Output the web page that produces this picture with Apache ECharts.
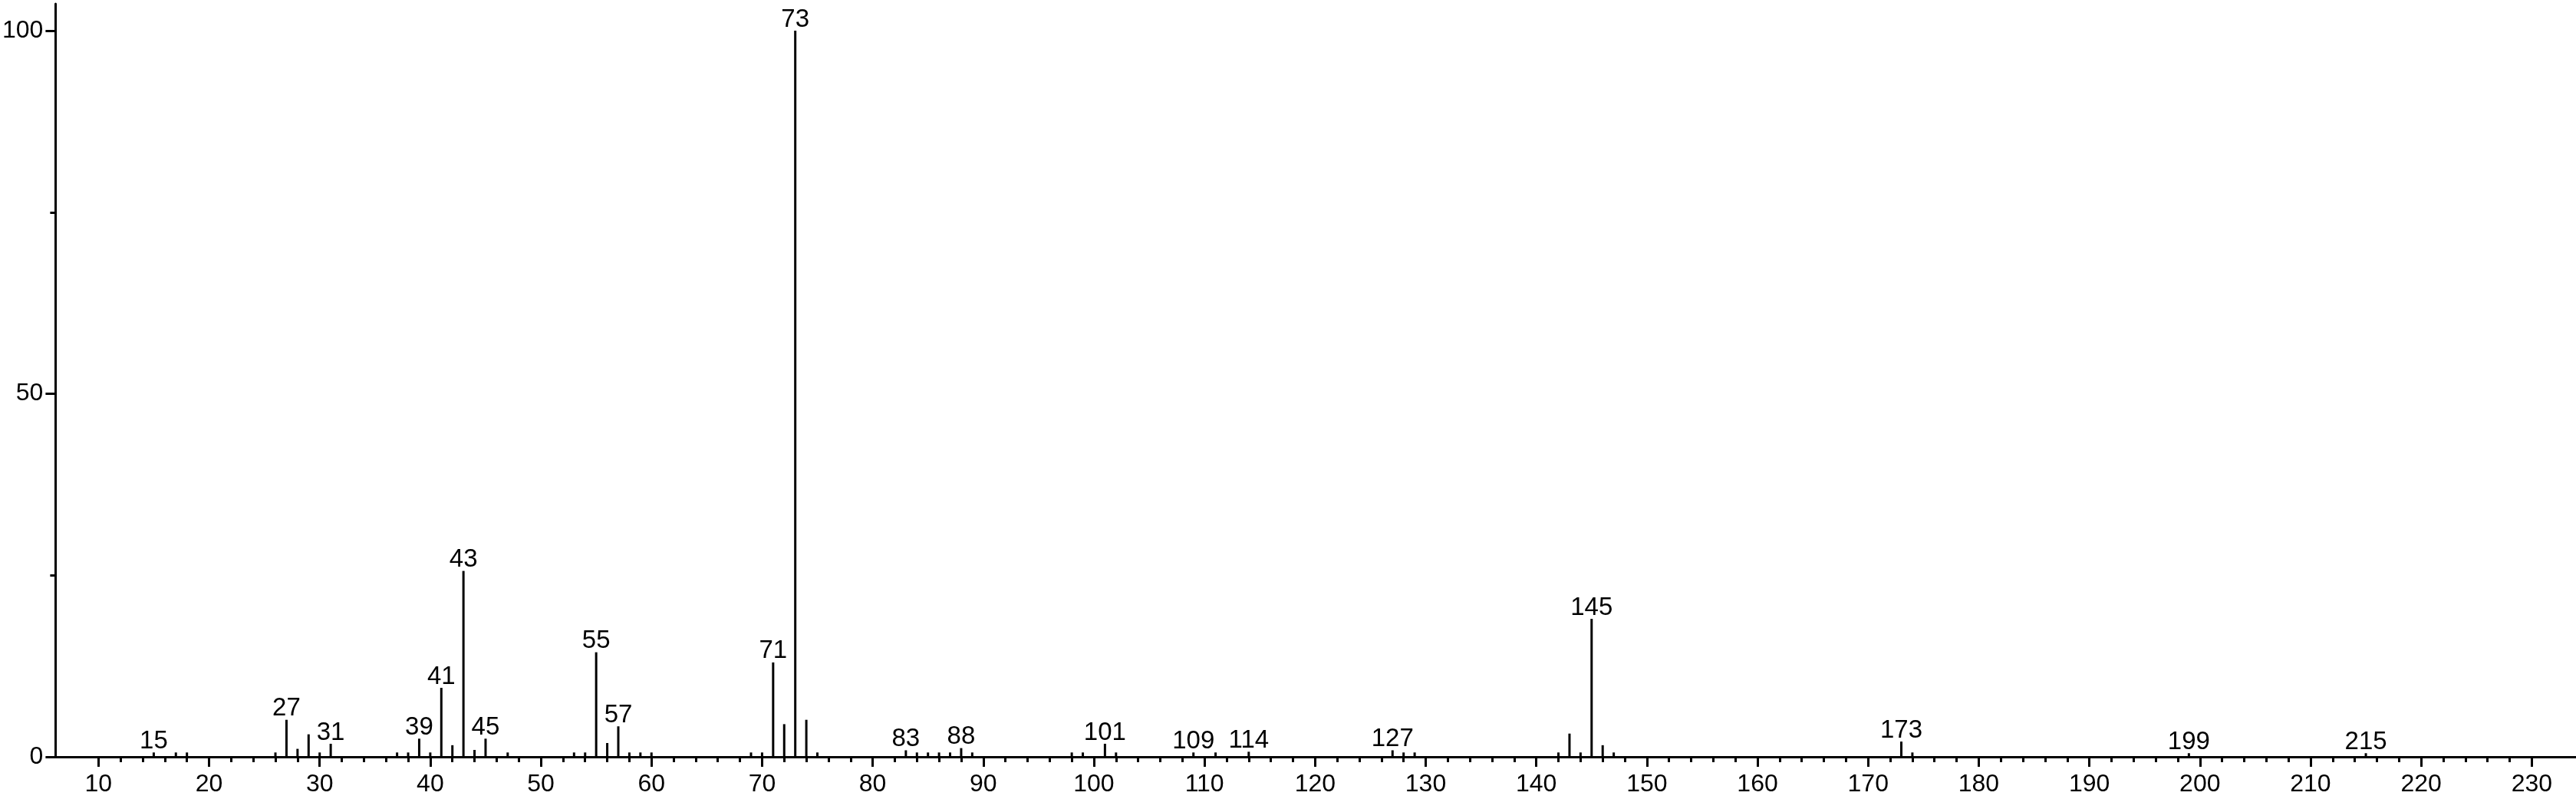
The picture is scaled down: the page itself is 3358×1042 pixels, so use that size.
<!DOCTYPE html>
<html>
<head>
<meta charset="utf-8">
<script src="https://cdn.jsdelivr.net/npm/echarts@6/dist/echarts.min.js"></script>
<style>
  html, body { margin: 0; padding: 0; background: #fff; }
  #chart { width: 3358px; height: 1042px; }
</style>
</head>
<body>
<div id="chart"></div>
<script>
// m/z of each peak and its relative intensity (%)
const mz = [15, 17, 18, 26, 27, 28, 29, 30, 31, 37, 38, 39, 40, 41, 42, 43, 44, 45, 47,
  53, 54, 55, 56, 57, 58, 59, 60, 69, 70, 71, 72, 73, 74, 75,
  83, 84, 85, 86, 87, 88, 89, 98, 99, 101, 102, 109, 111, 114,
  127, 128, 129, 142, 143, 144, 145, 146, 147, 173, 174, 199, 215]
const intensity = [0.6, 0.6, 0.6, 0.6, 5.1, 1.1, 3.1, 0.6, 1.8, 0.6, 0.6, 2.5, 0.6, 9.5, 1.6, 25.6, 0.95, 2.5, 0.6,
  0.6, 0.6, 14.4, 1.9, 4.2, 0.6, 0.6, 0.6, 0.6, 0.6, 13.0, 4.5, 100, 5.1, 0.6,
  0.9, 0.6, 0.6, 0.6, 0.6, 1.2, 0.6, 0.6, 0.6, 1.8, 0.6, 0.6, 0.6, 0.7,
  0.9, 0.6, 0.6, 0.6, 3.2, 0.6, 19.0, 1.6, 0.6, 2.1, 0.6, 0.5, 0.5]
// peaks that carry an m/z label
const labeledPeaks = [15, 27, 31, 39, 41, 43, 45, 55, 57, 71, 73, 83, 88, 101, 109, 114, 127, 145, 173, 199, 215]

const xTickLabels = [10, 20, 30, 40, 50, 60, 70, 80, 90, 100, 110, 120, 130, 140, 150, 160, 170, 180, 190, 200, 210, 220, 230]
const yTickLabels = [0, 50, 100]
const yMinorTicks = [25, 75]

const X_MIN = 6.12
const X_MAX = 234
const Y_MAX = 103.7

const xMinorTicks = []
xTickLabels.slice(0, -1).forEach(function (t) {
  xMinorTicks.push(t + 2, t + 4, t + 6, t + 8)
})

const font = "'Liberation Sans', Arial, sans-serif"
const black = '#000'

const chart = echarts.init(document.getElementById('chart'))

const data = mz.map(function (m, i) {
  return {
    value: [m, intensity[i]],
    label: { show: labeledPeaks.indexOf(m) >= 0 }
  }
})

chart.setOption({
  animation: false,
  backgroundColor: '#fff',
  grid: { left: 70, right: 0, top: 5, bottom: 55, containLabel: false },
  xAxis: [{
    type: 'value',
    min: X_MIN,
    max: X_MAX,
    position: 'bottom',
    axisLine: { show: true, onZero: false, lineStyle: { color: black, width: 3 } },
    axisTick: { show: true, length: 13, customValues: xTickLabels, lineStyle: { color: black, width: 3 } },
    axisLabel: { customValues: xTickLabels, margin: 20, fontSize: 32, color: black, fontFamily: font },
    splitLine: { show: false }
  }, {
    type: 'value',
    min: X_MIN,
    max: X_MAX,
    position: 'bottom',
    axisLine: { show: false, onZero: false },
    axisTick: { show: true, length: 7, customValues: xMinorTicks, lineStyle: { color: black, width: 3 } },
    axisLabel: { show: false },
    splitLine: { show: false }
  }],
  yAxis: [{
    type: 'value',
    min: 0,
    max: Y_MAX,
    position: 'left',
    axisLine: { show: true, onZero: false, lineStyle: { color: black, width: 3 } },
    axisTick: { show: true, length: 13, customValues: yTickLabels, lineStyle: { color: black, width: 3 } },
    axisLabel: { customValues: yTickLabels, margin: 16, fontSize: 32, color: black, fontFamily: font },
    splitLine: { show: false }
  }, {
    type: 'value',
    min: 0,
    max: Y_MAX,
    position: 'left',
    axisLine: { show: false, onZero: false },
    axisTick: { show: true, length: 7, customValues: yMinorTicks, lineStyle: { color: black, width: 3 } },
    axisLabel: { show: false },
    splitLine: { show: false }
  }],
  series: [{
    type: 'bar',
    xAxisIndex: 0,
    yAxisIndex: 0,
    barWidth: 3,
    itemStyle: { color: black },
    label: {
      position: 'top',
      distance: -2,
      fontSize: 33,
      color: black,
      fontFamily: font,
      formatter: function (p) { return p.value[0] }
    },
    data: data
  }]
})
</script>
</body>
</html>
